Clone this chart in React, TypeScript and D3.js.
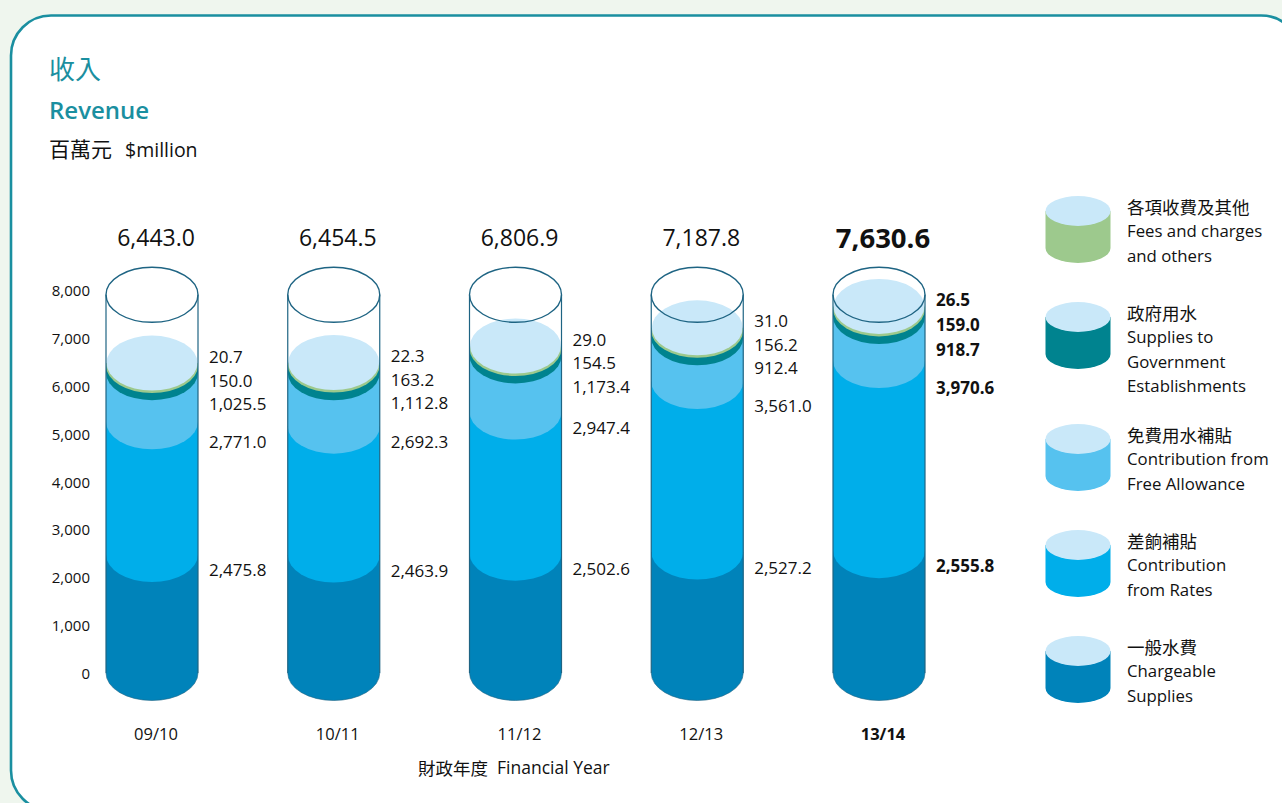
import React from "react";
import * as d3 from "d3";

// ---------- data ----------
const years = ["09/10", "10/11", "11/12", "12/13", "13/14"];
const chargeable = [2475.8, 2463.9, 2502.6, 2527.2, 2555.8];
const rates = [2771.0, 2692.3, 2947.4, 3561.0, 3970.6];
const freeAllowance = [1025.5, 1112.8, 1173.4, 912.4, 918.7];
const government = [150.0, 163.2, 154.5, 156.2, 159.0];
const fees = [20.7, 22.3, 29.0, 31.0, 26.5];
const totals = [6443.0, 6454.5, 6806.9, 7187.8, 7630.6];
const yTicks = [0, 1000, 2000, 3000, 4000, 5000, 6000, 7000, 8000];
const highlightYear = "13/14";

const legendZh = ["各項收費及其他", "政府用水", "免費用水補貼", "差餉補貼", "一般水費"];
const legendEn = [
  ["Fees and charges", "and others"],
  ["Supplies to", "Government", "Establishments"],
  ["Contribution from", "Free Allowance"],
  ["Contribution", "from Rates"],
  ["Chargeable", "Supplies"],
];

// ---------- style ----------
const C_CHARGE = "#0083BA";
const C_RATES = "#00AEEA";
const C_FREE = "#56C2EF";
const C_GOV = "#00838F";
const C_FEES = "#9DC98D";
const C_SURFACE = "#C9E8F9";
const C_OUTLINE = "#1E6483";
const C_TEAL = "#1A8FA0";
const FONT = "'Open Sans', 'Noto Sans', sans-serif";
const CJK = "'Noto Sans CJK TC', 'Noto Sans', sans-serif";

const W = 1282;
const H = 803;

export default function App() {
  const y = d3.scaleLinear().domain([0, 8000]).range([673, 290]);
  const x = d3.scalePoint<string>().domain(years).range([152, 879]);
  const rx = 46;
  const ry = 27.5;
  const minH = 2.5;

  const stackSeries = [chargeable, rates, freeAllowance, government, fees];
  const stackColors = [C_CHARGE, C_RATES, C_FREE, C_GOV, C_FEES];
  const fmt = d3.format(",.1f");

  const segPath = (cx: number, yt: number, yb: number, r: number, rr: number) =>
    `M${cx - r},${yt} L${cx + r},${yt} L${cx + r},${yb} A${r},${rr} 0 0 1 ${cx - r},${yb} Z`;

  const cylinders = years.map((yr, i) => {
    const cx = x(yr) as number;
    const bold = yr === highlightYear;
    let yb = y(0);
    const segs: JSX.Element[] = [];
    stackSeries.forEach((s, k) => {
      const h = y(0) - y(s[i]);
      const vh = Math.max(h, minH);
      const yt = yb - vh;
      segs.push(<path key={k} d={segPath(cx, yt, yb, rx, ry)} fill={stackColors[k]} />);
      yb = yt;
    });
    const surfaceY = yb;
    const topY = y(7900);
    const y0 = y(0);

    const lx = cx + rx + 11;
    const step = bold ? 25 : 23.5;
    const firstY = y(totals[i]) - 8;
    const thirdY = firstY + 2 * step;
    const ratesY = Math.max(y(chargeable[i] + rates[i]) + 15, thirdY + 38);
    const chargeY = y(chargeable[i]) + 15;
    const labelProps = {
      fontFamily: FONT,
      fontSize: 17,
      fontWeight: bold ? 700 : 400,
      fill: "#111",
      dominantBaseline: "central" as const,
    };

    return (
      <g key={yr}>
        {segs}
        <ellipse cx={cx} cy={surfaceY} rx={rx - 0.5} ry={ry} fill={C_SURFACE} />
        {/* outline */}
        <ellipse cx={cx} cy={topY} rx={rx} ry={ry} fill="none" stroke={C_OUTLINE} strokeWidth={1.4} />
        <line x1={cx - rx} x2={cx - rx} y1={topY} y2={y0} stroke={C_OUTLINE} strokeWidth={1.2} />
        <line x1={cx + rx} x2={cx + rx} y1={topY} y2={y0} stroke={C_OUTLINE} strokeWidth={1.2} />
        <path d={`M${cx - rx},${y0} A${rx},${ry} 0 0 0 ${cx + rx},${y0}`} fill="none" stroke={C_OUTLINE} strokeWidth={1} strokeOpacity={0.6} />
        {/* total */}
        <text
          x={cx + 4}
          y={237}
          textAnchor="middle"
          dominantBaseline="central"
          fontFamily={FONT}
          fontSize={bold ? 27.5 : 23}
          fontWeight={bold ? 700 : 400}
          fill="#111"
        >
          {fmt(totals[i])}
        </text>
        {/* segment values */}
        <text x={lx} y={firstY} {...labelProps}>{fmt(fees[i])}</text>
        <text x={lx} y={firstY + step} {...labelProps}>{fmt(government[i])}</text>
        <text x={lx} y={thirdY} {...labelProps}>{fmt(freeAllowance[i])}</text>
        <text x={lx} y={ratesY} {...labelProps}>{fmt(rates[i])}</text>
        <text x={lx} y={chargeY} {...labelProps}>{fmt(chargeable[i])}</text>
        {/* category */}
        <text
          x={cx + 4}
          y={733}
          textAnchor="middle"
          dominantBaseline="central"
          fontFamily={FONT}
          fontSize={16.5}
          fontWeight={bold ? 700 : 400}
          fill="#111"
        >
          {yr}
        </text>
      </g>
    );
  });

  // legend
  const legendColors = [C_FEES, C_GOV, C_FREE, C_RATES, C_CHARGE];
  const lcx = 1078;
  const lrx = 32.5;
  const lry = 15;
  const lBody = 37;
  const tops: number[] = [];
  let t = 196;
  legendZh.forEach((_, i) => {
    tops.push(t);
    const nLines = 1 + legendEn[i].length;
    t += 106 + (nLines - 3) * 16;
  });

  const legend = legendZh.map((zh, i) => {
    const top = tops[i];
    const cy = top + lry;
    return (
      <g key={zh}>
        <path d={segPath(lcx, cy, cy + lBody, lrx, lry)} fill={legendColors[i]} />
        <ellipse cx={lcx} cy={cy} rx={lrx} ry={lry} fill={C_SURFACE} />
        <text x={1127} y={top + 10} dominantBaseline="central" fontFamily={CJK} fontSize={17.5} fill="#111">
          {zh}
        </text>
        {legendEn[i].map((ln, j) => (
          <text
            key={j}
            x={1127}
            y={top + 10 + 24.5 * (j + 1)}
            dominantBaseline="central"
            fontFamily={FONT}
            fontSize={16.8}
            fill="#111"
          >
            {ln}
          </text>
        ))}
      </g>
    );
  });

  return (
    <svg
      width={W}
      height={H}
      viewBox={`0 0 ${W} ${H}`}
      style={{ position: "absolute", left: 0, top: 0, display: "block" }}
    >
      <rect x={0} y={0} width={W} height={H} fill="#EFF6EE" />
      <rect x={11} y={15.5} width={1290} height={795} rx={40} ry={40} fill="#fff" stroke={C_TEAL} strokeWidth={2.6} />

      <text x={49} y={79} fontFamily={CJK} fontSize={26} fill={C_TEAL}>收入</text>
      <text x={49} y={119} fontFamily={FONT} fontSize={24} fontWeight={600} fill={C_TEAL}>Revenue</text>
      <text x={49} y={157} fontFamily={CJK} fontSize={21} fill="#111">
        百萬元<tspan fontFamily={FONT} fontSize={19.5} dx={13}>$million</tspan>
      </text>

      {yTicks.map((v) => (
        <text
          key={v}
          x={90}
          y={y(v)}
          textAnchor="end"
          dominantBaseline="central"
          fontFamily={FONT}
          fontSize={15}
          fill="#111"
        >
          {d3.format(",")(v)}
        </text>
      ))}

      {cylinders}

      <text x={418} y={767} dominantBaseline="central" fontFamily={CJK} fontSize={17.5} fill="#111">
        財政年度<tspan fontFamily={FONT} dx={9}>Financial Year</tspan>
      </text>

      {legend}
    </svg>
  );
}
